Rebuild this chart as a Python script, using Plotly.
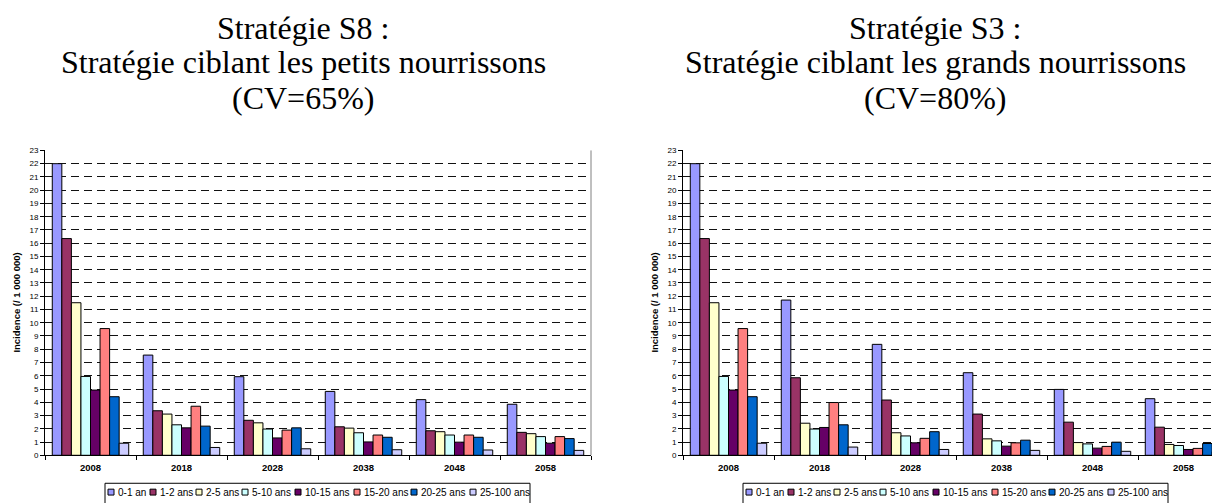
import plotly.graph_objects as go

# ---------------- data ----------------
YEARS = ["2008", "2018", "2028", "2038", "2048", "2058"]
SERIES = ["0-1 an", "1-2 ans", "2-5 ans", "5-10 ans", "10-15 ans", "15-20 ans", "20-25 ans", "25-100 ans"]
COLORS = ["#9999FF", "#993366", "#FFFFCC", "#CCFFFF", "#660066", "#FF8080", "#0066CC", "#CCCCFF"]

# Strategy S8 (left)
S8_0_1 = [22.0, 7.56, 5.93, 4.82, 4.20, 3.85]
S8_1_2 = [16.35, 3.36, 2.64, 2.15, 1.85, 1.73]
S8_2_5 = [11.51, 3.11, 2.45, 2.05, 1.78, 1.63]
S8_5_10 = [5.95, 2.30, 1.98, 1.70, 1.53, 1.41]
S8_10_15 = [4.92, 2.07, 1.31, 1.01, 0.99, 0.91]
S8_15_20 = [9.56, 3.70, 1.90, 1.53, 1.53, 1.41]
S8_20_25 = [4.42, 2.20, 2.07, 1.36, 1.36, 1.26]
S8_25_100 = [0.91, 0.59, 0.49, 0.42, 0.40, 0.37]

# Strategy S3 (right)
S3_0_1 = [22.0, 11.71, 8.37, 6.23, 4.97, 4.27]
S3_1_2 = [16.35, 5.85, 4.17, 3.11, 2.50, 2.12]
S3_2_5 = [11.51, 2.42, 1.70, 1.24, 0.96, 0.82]
S3_5_10 = [5.95, 1.98, 1.46, 1.09, 0.86, 0.74]
S3_10_15 = [4.92, 2.10, 0.94, 0.69, 0.54, 0.44]
S3_15_20 = [9.56, 3.98, 1.28, 0.94, 0.67, 0.52]
S3_20_25 = [4.42, 2.30, 1.78, 1.14, 0.99, 0.89]
S3_25_100 = [0.91, 0.62, 0.44, 0.37, 0.30, 0.27]

S8 = [S8_0_1, S8_1_2, S8_2_5, S8_5_10, S8_10_15, S8_15_20, S8_20_25, S8_25_100]
S3 = [S3_0_1, S3_1_2, S3_2_5, S3_5_10, S3_10_15, S3_15_20, S3_20_25, S3_25_100]

TITLE_LEFT = ["Stratégie S8 :", "Stratégie ciblant les petits nourrissons", "(CV=65%)"]
TITLE_RIGHT = ["Stratégie S3 :", "Stratégie ciblant les grands nourrissons", "(CV=80%)"]
Y_TITLE = "Incidence (/ 1 000 000)"
Y_TICKS = list(range(0, 24))

# ---------------- layout constants (page pixels) ----------------
# the page body has an 8px margin, so the figure is sized to end at the window edge
OFF = 8
W, H = 1220 - OFF, 503 - OFF


def px(x):
    return (x - OFF) / W


def py(y):
    return 1 - (y - OFF) / H


fig = go.Figure()

for (vals, xa, ya) in [(S8, "x", "y"), (S3, "x2", "y2")]:
    for name, color, v in zip(SERIES, COLORS, vals):
        fig.add_trace(go.Bar(
            x=YEARS, y=v, name=name, xaxis=xa, yaxis=ya,
            marker=dict(color=color, line=dict(color="black", width=1)),
            showlegend=False,
        ))

axis_y = dict(
    range=[0, 23], tickvals=Y_TICKS, ticks="outside", ticklen=4, tickcolor="black",
    showline=True, linecolor="black", linewidth=1,
    showgrid=True, gridcolor="#111111", gridwidth=1, griddash="8px,5px",
    zeroline=False, tickfont=dict(family="Liberation Sans, Arial", size=8, color="black"),
    domain=[py(459.5), py(149)], fixedrange=True,
)
axis_x = dict(
    type="category", ticks="outside", ticklen=4, tickcolor="black", tickson="boundaries",
    showline=True, linecolor="black", linewidth=1, showgrid=False, ticklabelstandoff=3,
    tickfont=dict(family="Liberation Sans, Arial", size=9.5, color="black", weight="bold"),
    fixedrange=True,
)

fig.update_layout(
    width=W, height=H, margin=dict(l=0, r=0, t=0, b=0),
    paper_bgcolor="white", plot_bgcolor="white",
    barmode="group", bargap=0.16, bargroupgap=0,
    xaxis=dict(axis_x, domain=[px(45), px(591)], anchor="y", range=[-0.5, 5.5]),
    yaxis=dict(axis_y, anchor="x"),
    xaxis2=dict(axis_x, domain=[px(683), 1.0], anchor="y2", range=[-0.5, 5.5 - 9.0 / 91.0]),
    yaxis2=dict(axis_y, anchor="x2"),
)

# plot-area right border of the left chart
fig.add_shape(type="line", xref="x domain", yref="y domain", x0=1, x1=1, y0=0, y1=1,
              line=dict(color="#808080", width=1))

# titles
title_y = [24, 59, 96]
for lines, cx in [(TITLE_LEFT, 303), (TITLE_RIGHT, 935)]:
    for t, yy in zip(lines, title_y):
        fig.add_annotation(text=t, xref="paper", yref="paper", x=px(cx), y=py(yy),
                           xanchor="center", yanchor="middle", showarrow=False,
                           font=dict(family="Liberation Serif, Times New Roman", size=32, color="black"))

# y axis titles
for cx in [17, 655]:
    fig.add_annotation(text=Y_TITLE, xref="paper", yref="paper", x=px(cx), y=py(304),
                       xanchor="center", yanchor="middle", showarrow=False, textangle=-90,
                       font=dict(family="Liberation Sans, Arial", size=9.5, color="black", weight="bold"))

# legends (one per chart, drawn from SERIES / COLORS)
LEG_SQ_X = [108, 150, 196, 242, 295, 354, 411, 470]
for dx in [0, 638]:
    fig.add_shape(type="rect", xref="paper", yref="paper",
                  x0=px(105 + dx), x1=px(530 + dx), y0=py(488), y1=py(512),
                  line=dict(color="black", width=1), fillcolor="white")
    for name, color, sx in zip(SERIES, COLORS, LEG_SQ_X):
        fig.add_shape(type="rect", xref="paper", yref="paper",
                      x0=px(sx + dx), x1=px(sx + dx + 6), y0=py(500), y1=py(494),
                      line=dict(color="black", width=1), fillcolor=color)
        fig.add_annotation(text=name, xref="paper", yref="paper", x=px(sx + dx + 8), y=py(497.5),
                           xanchor="left", yanchor="middle", showarrow=False,
                           font=dict(family="Liberation Sans, Arial", size=10, color="black"))

fig.write_html("out.html")
